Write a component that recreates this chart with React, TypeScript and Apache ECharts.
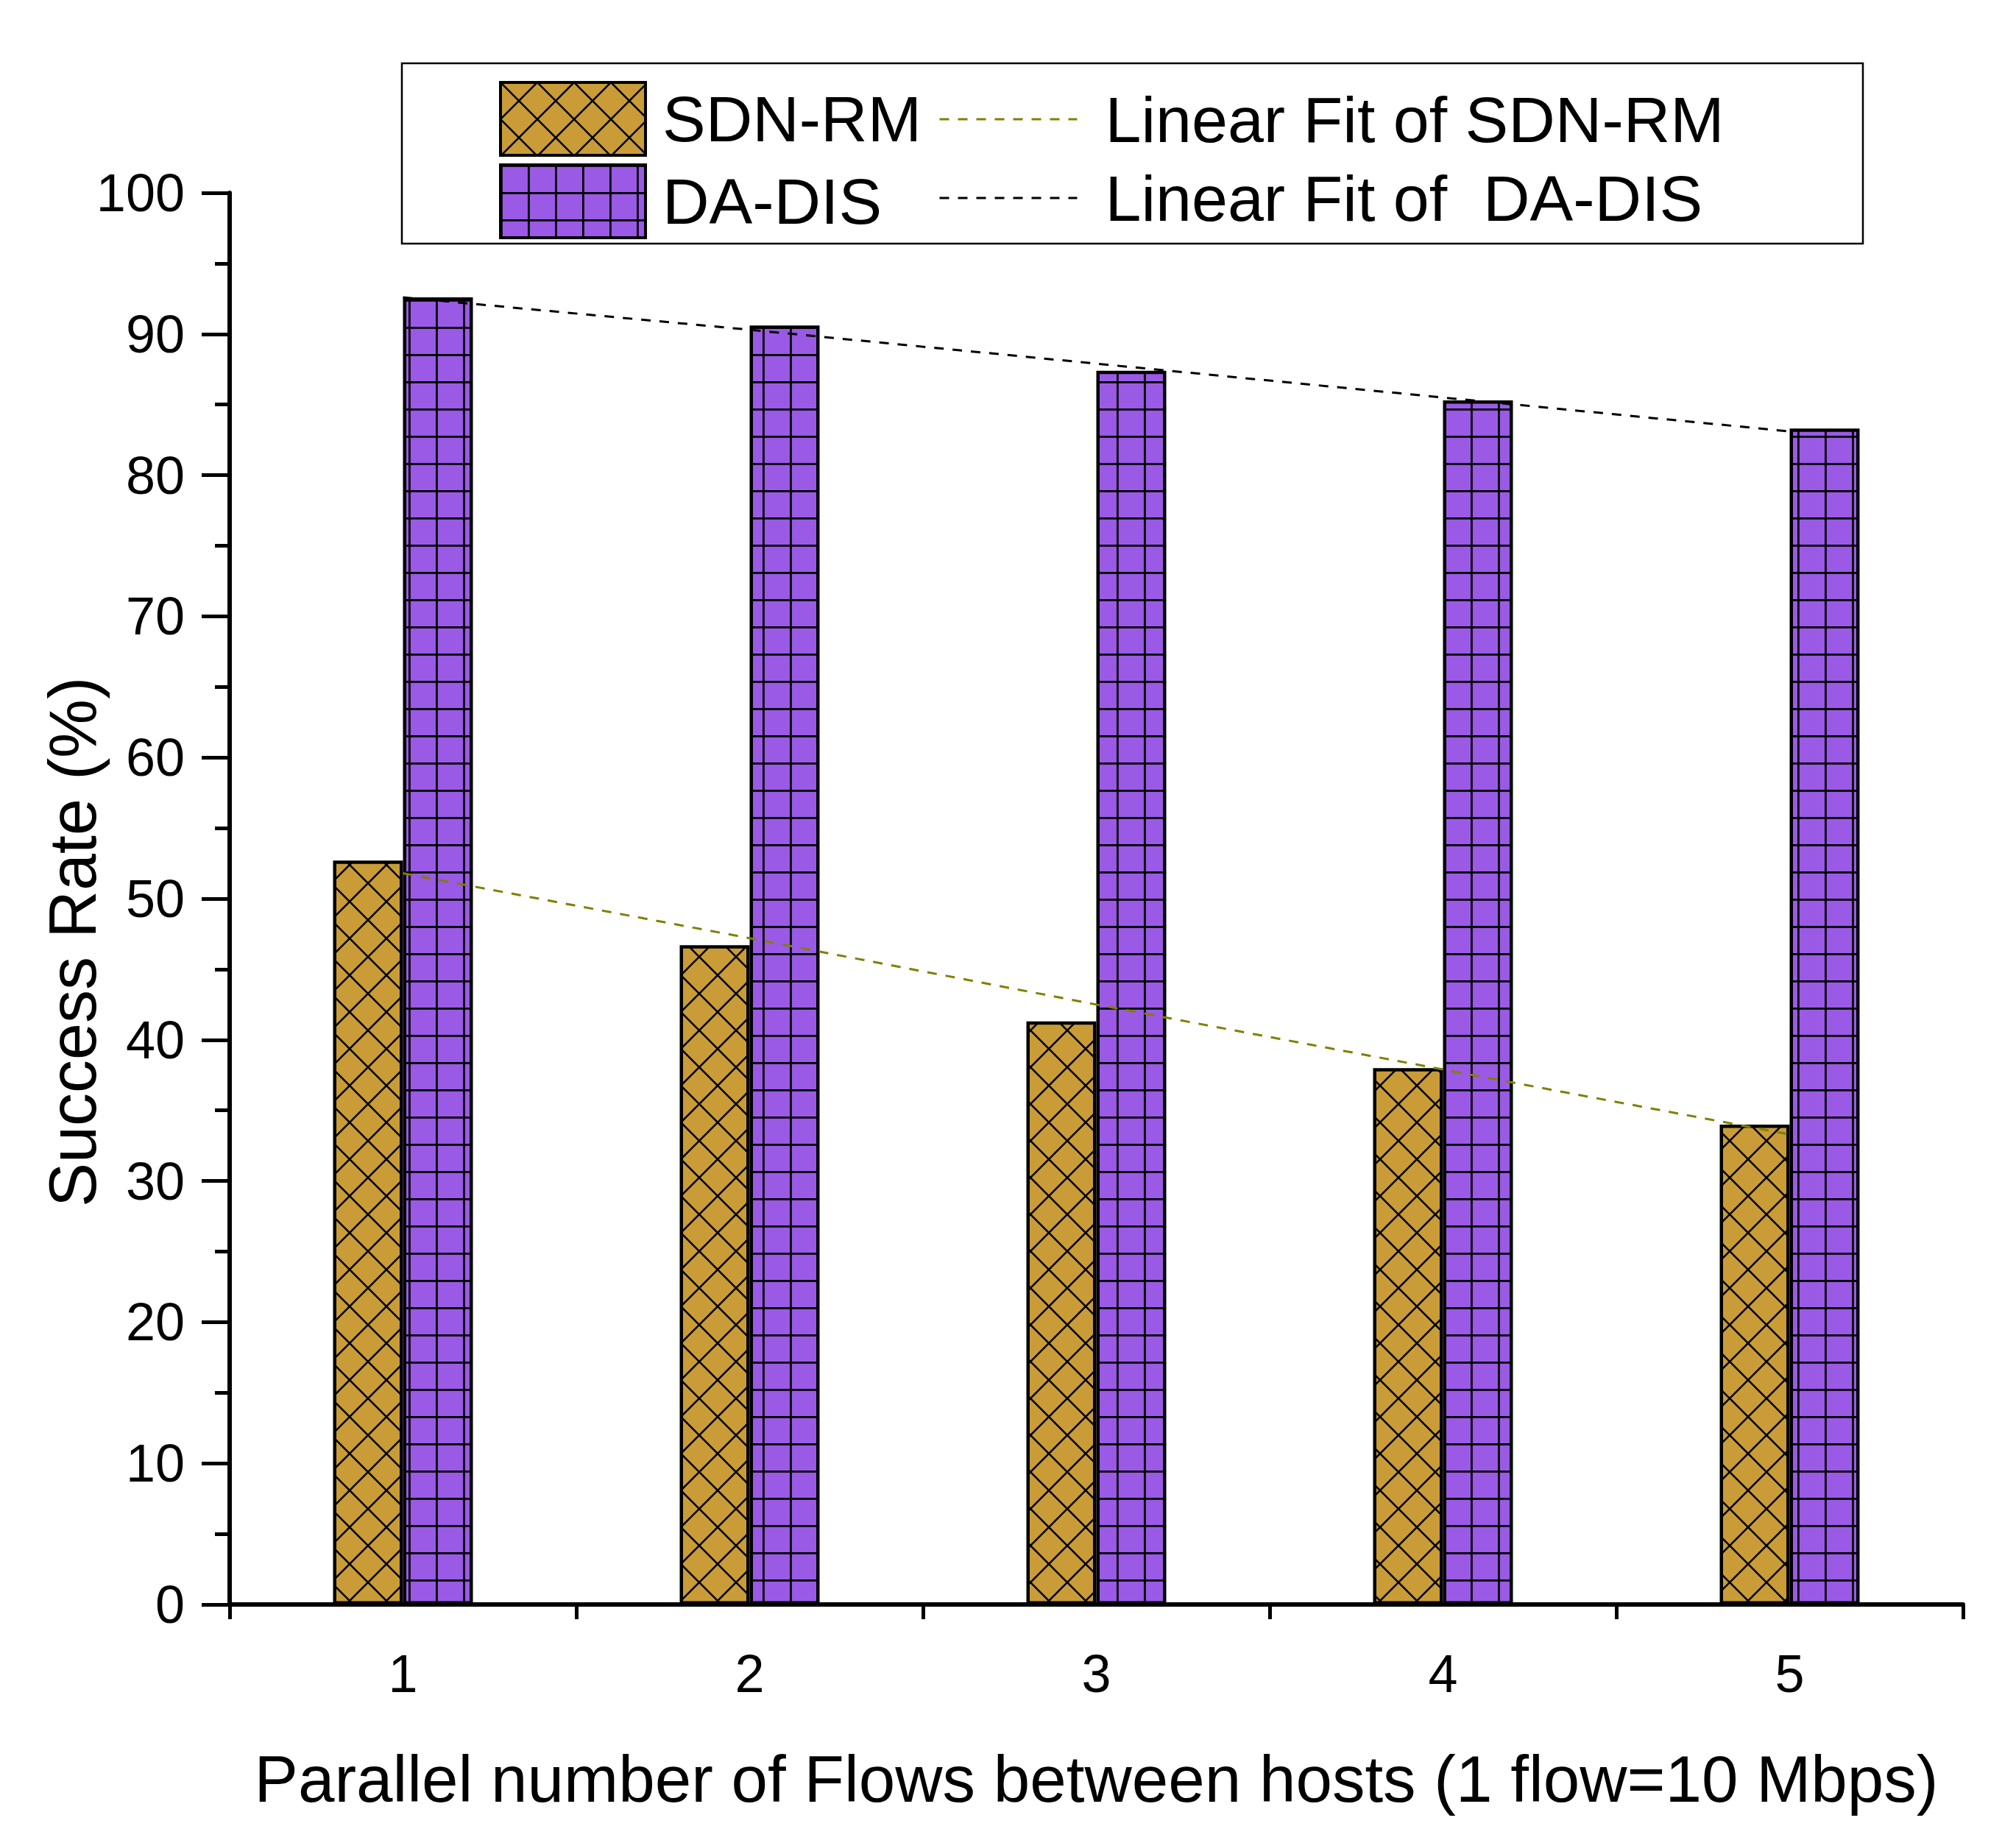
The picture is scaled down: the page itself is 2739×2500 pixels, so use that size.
import { useEffect, useRef } from "react";
import * as echarts from "echarts";

// values
const categories = ["1", "2", "3", "4", "5"];
const sdnRm = [52.7, 46.7, 41.3, 38.0, 34.0];
const daDis = [92.6, 90.6, 87.4, 85.3, 83.3];
const sdnRmFit = [51.8, 47.2, 42.5, 37.9, 33.3];
const daDisFit = [92.6, 90.3, 87.9, 85.5, 83.1];
const yMin = 0;
const yMax = 100;
const yStep = 10;

const FONT = "'Liberation Sans', Arial, Helvetica, sans-serif";
const GOLD = "#c99c37";
const PURPLE = "#9a5ae5";
const OLIVE = "#808000";

function crossHatch() {
  const size = 50;
  const c = document.createElement("canvas");
  c.width = size;
  c.height = size;
  const ctx = c.getContext("2d")!;
  ctx.fillStyle = GOLD;
  ctx.fillRect(0, 0, size, size);
  ctx.strokeStyle = "#000";
  ctx.lineWidth = 2.6;
  ctx.beginPath();
  for (let k = -1; k <= 1; k++) {
    ctx.moveTo(-size, -size + k * size);
    ctx.lineTo(2 * size, 2 * size + k * size);
  }
  for (let k = 0; k <= 2; k++) {
    ctx.moveTo(-size, k * size + size);
    ctx.lineTo(2 * size, k * size - 2 * size);
  }
  ctx.stroke();
  return { image: c, repeat: "repeat", imageWidth: size, imageHeight: size };
}

function squareGrid() {
  const size = 37;
  const c = document.createElement("canvas");
  c.width = size;
  c.height = size;
  const ctx = c.getContext("2d")!;
  ctx.fillStyle = PURPLE;
  ctx.fillRect(0, 0, size, size);
  ctx.fillStyle = "#000";
  ctx.fillRect(0, 0, size, 2.8);
  ctx.fillRect(0, 0, 2.8, size);
  return { image: c, repeat: "repeat", imageWidth: size, imageHeight: size };
}

export default function App() {
  const chartRef = useRef<HTMLDivElement>(null);

  useEffect(() => {
    if (!chartRef.current) return;
    document.body.style.margin = "0";
    const chart = echarts.init(chartRef.current, null, { renderer: "svg" });

    const goldPat = crossHatch();
    const purplePat = squareGrid();
    const barBorder = { borderColor: "#000", borderWidth: 4.5 };
    const tickText = { fontFamily: FONT, fontSize: 72, color: "#000" };
    const legendText = { fontFamily: FONT, fontSize: 88, color: "#000" };

    const option = {
      animation: false,
      backgroundColor: "#fff",
      grid: { left: 312, right: 72, top: 262, bottom: 320, containLabel: false },
      legend: [
        {
          data: [
            { name: "SDN-RM", itemStyle: { color: goldPat, ...barBorder, borderWidth: 4 } },
            { name: "DA-DIS", itemStyle: { color: purplePat, ...barBorder, borderWidth: 4 } },
          ],
          orient: "vertical",
          left: 678,
          top: 110,
          padding: 0,
          icon: "rect",
          itemWidth: 197,
          itemHeight: 99,
          itemGap: 9,
          selectedMode: false,
          textStyle: { ...legendText, padding: [0, 0, 10, 18] },
        },
        {
          data: [
            {
              name: "Linear Fit of SDN-RM",
              itemStyle: { color: "rgba(0,0,0,0)", borderWidth: 0 },
              lineStyle: { color: OLIVE, width: 3, type: [13, 12] },
            },
            {
              name: "Linear Fit of  DA-DIS",
              itemStyle: { color: "rgba(0,0,0,0)", borderWidth: 0 },
              lineStyle: { color: "#000", width: 3, type: [13, 12] },
            },
          ],
          orient: "vertical",
          left: 1275,
          top: 118,
          padding: 0,
          itemWidth: 187,
          itemHeight: 99,
          itemGap: 19,
          selectedMode: false,
          textStyle: { ...legendText, padding: [0, 0, 8, 33] },
        },
      ],
      graphic: [
        {
          type: "rect",
          shape: { x: 546, y: 86, width: 1985, height: 245 },
          style: { fill: "none", stroke: "#000", lineWidth: 2.5 },
          silent: true,
        },
        {
          type: "text",
          x: 99,
          y: 1280,
          rotation: Math.PI / 2,
          style: {
            text: "Success Rate (%)",
            fontFamily: FONT,
            fontSize: 90,
            fill: "#000",
            align: "center",
            verticalAlign: "middle",
          },
          silent: true,
        },
      ],
      xAxis: [
        {
          type: "category",
          data: categories,
          position: "bottom",
          boundaryGap: true,
          axisLine: { lineStyle: { color: "#000", width: 6 } },
          axisTick: { alignWithLabel: true, length: 38, lineStyle: { color: "#000", width: 5 } },
          axisLabel: { ...tickText, margin: 58 },
          splitLine: { show: false },
          name: "Parallel number of Flows between hosts (1 flow=10 Mbps)",
          nameLocation: "middle",
          nameGap: 192,
          nameTextStyle: { fontFamily: FONT, fontSize: 89, color: "#000" },
        },
        {
          type: "category",
          data: categories,
          position: "bottom",
          boundaryGap: true,
          axisLine: { show: false },
          axisTick: { show: true, length: 20, lineStyle: { color: "#000", width: 5 } },
          axisLabel: { show: false },
          splitLine: { show: false },
        },
      ],
      yAxis: {
        type: "value",
        min: yMin,
        max: yMax,
        interval: yStep,
        axisLine: { show: true, lineStyle: { color: "#000", width: 6 } },
        axisTick: { show: true, length: 38, lineStyle: { color: "#000", width: 5 } },
        minorTick: { show: true, splitNumber: 2, length: 20, lineStyle: { color: "#000", width: 5 } },
        splitLine: { show: false },
        axisLabel: { ...tickText, margin: 61 },
      },
      series: [
        {
          name: "SDN-RM",
          type: "bar",
          data: sdnRm,
          barWidth: 95,
          barGap: "0%",
          itemStyle: { color: goldPat, ...barBorder },
        },
        {
          name: "DA-DIS",
          type: "bar",
          data: daDis,
          barWidth: 95,
          barGap: "0%",
          itemStyle: { color: purplePat, ...barBorder },
        },
        {
          name: "Linear Fit of SDN-RM",
          type: "line",
          data: sdnRmFit,
          symbol: "none",
          z: 5,
          itemStyle: { color: OLIVE },
          lineStyle: { color: OLIVE, width: 3, type: [13, 12] },
        },
        {
          name: "Linear Fit of  DA-DIS",
          type: "line",
          data: daDisFit,
          symbol: "none",
          z: 5,
          itemStyle: { color: "#000" },
          lineStyle: { color: "#000", width: 3, type: [13, 12] },
        },
      ],
    };

    chart.setOption(option as echarts.EChartsOption);

    return () => {
      chart.dispose();
    };
  }, []);

  return <div ref={chartRef} style={{ width: 2739, height: 2500 }} />;
}
